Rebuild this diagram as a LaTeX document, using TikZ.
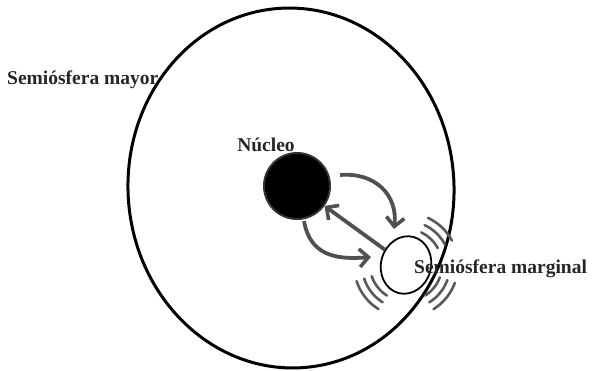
\documentclass[tikz,border=0pt]{standalone}
\usepackage{fontspec}
\setmainfont{Liberation Serif}
\usetikzlibrary{arrows.meta,shapes.geometric,calc}
\definecolor{arr}{HTML}{505050}
\definecolor{wav}{HTML}{5A5A5A}
\begin{document}
\begin{tikzpicture}[x=1pt,y=-1pt,
  lbl/.style={font=\fontsize{19.5}{22}\selectfont\bfseries, inner sep=0pt, text=black!85},
  flow/.style={draw=arr, line width=3.8pt, -{Straight Barb[length=9pt,width=18pt,line width=3.6pt]}},
  wave/.style={draw=wav, line width=2.6pt, line cap=round}]
\useasboundingbox (0,0) rectangle (592,370);
% big ellipse
\draw[line width=3pt] (291,188) ellipse[x radius=163, y radius=180, rotate=3];
% nucleus
\node[circle, fill=black, draw=black!80, line width=2pt, minimum size=66pt, inner sep=0pt] (nuc) at (297,186) {};
% marginal semiosphere
\node[ellipse, draw, line width=1.8pt, fill=white, minimum width=50pt, minimum height=58pt, inner sep=0pt, rotate=-15] (mar) at (406,265) {};
% waves
\foreach \r in {36,44,52} {
  \draw[wave] ($(406,265)+(-65:\r)$) arc[start angle=-65, end angle=-28, radius=\r];
  \draw[wave] ($(406,265)+(122:\r)$) arc[start angle=122, end angle=162, radius=\r];
  \draw[wave] ($(406,265)+(20:\r)$) arc[start angle=20, end angle=58, radius=\r];
}
% arrows
\coordinate (a2s) at (340,175);
\coordinate (a2e) at (394,229);
\coordinate (a3s) at (304,221);
\coordinate (a3e) at (371,257);
\draw[draw=white, line width=8pt, -{Straight Barb[length=9pt,width=18pt,line width=7pt]}, shorten <=30pt] (mar) -- (nuc);
\draw[flow] (mar) -- (nuc);
\draw[flow] (a2s) .. controls (375,172) and (398,195) .. (a2e);
\draw[flow] (a3s) .. controls (310,255) and (335,260) .. (a3e);
% labels
\node[lbl, anchor=west] (lmay) at (7,80) {Semiósfera mayor};
\node[lbl] (lnuc) at (266,145) {Núcleo};
\node[lbl, anchor=west] (lmar) at (414,269) {Semiósfera marginal};
\end{tikzpicture}
\end{document}
